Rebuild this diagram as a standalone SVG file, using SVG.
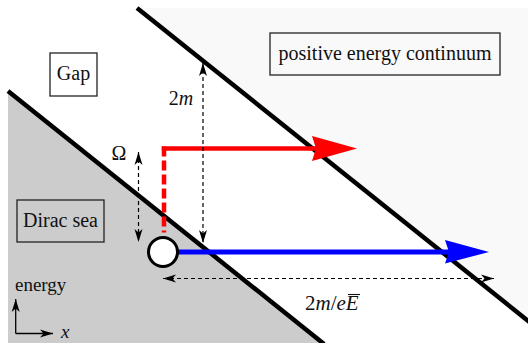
<svg xmlns="http://www.w3.org/2000/svg" width="528" height="343" viewBox="0 0 528 343" font-family="'Liberation Serif', 'DejaVu Serif', serif">
<style>
  text { font-family: "Liberation Serif", "DejaVu Serif", serif; fill: #111; }
  .lbl { font-size: 20px; }
  .box { fill: none; stroke: #222; stroke-width: 1.3; }
  .edge { stroke: #000; stroke-width: 4.5; fill: none; }
  .dim { stroke: #000; stroke-width: 1.2; stroke-dasharray: 4 3; fill: none; marker-start: url(#stealth); marker-end: url(#stealth); }
  .it { font-style: italic; }
</style>
<defs>
  <marker id="stealth" markerUnits="userSpaceOnUse" viewBox="-14 -5 15 10" refX="0" refY="0" markerWidth="15" markerHeight="10" orient="auto-start-reverse">
    <path d="M0,0 L-13,-4 L-9.5,0 L-13,4 Z" fill="#000"/>
  </marker>
</defs>

<g id="regions">
  <polygon points="137,8 528,8 528,321" fill="#f9f9f9"/>
  <polygon points="8,91 323,343 8,343" fill="#cccccc"/>
  <line class="edge" x1="137" y1="8" x2="530" y2="322.4"/>
  <line class="edge" x1="8" y1="91" x2="324" y2="344"/>
</g>

<g id="gap">
  <rect class="box" x="50" y="53" width="47" height="43" fill="#fff"/>
  <text class="lbl" x="73.5" y="80" text-anchor="middle">Gap</text>
</g>
<g id="continuum">
  <rect class="box" x="270" y="33" width="230" height="42"/>
  <text class="lbl" x="385" y="60" text-anchor="middle">positive energy continuum</text>
</g>
<g id="dirac-sea">
  <rect class="box" x="17" y="200" width="87" height="42"/>
  <text class="lbl" x="60.5" y="227" text-anchor="middle">Dirac sea</text>
</g>

<g id="connectors">
  <path d="M164,146.5 V232.5" stroke="#ff0000" stroke-width="4.5" stroke-dasharray="10 4" fill="none"/>
  <path d="M161.8,148.5 H316" stroke="#ff0000" stroke-width="4.5" fill="none"/>
  <polygon points="312,136 357,148.5 312,161 316,148.5" fill="#ff0000"/>
  <path d="M163,252 H449" stroke="#0000ff" stroke-width="5" fill="none"/>
  <polygon points="445,240 489,252 445,263.5 449,252" fill="#0000ff"/>
  <path class="dim" d="M138.5,152 V242"/>
  <path class="dim" d="M203,63 V243"/>
  <path class="dim" d="M163,278.5 H494"/>
  <path d="M15.7,333.5 V299" stroke="#000" stroke-width="1.3" fill="none" marker-end="url(#stealth)"/>
  <path d="M15.7,333.5 H53" stroke="#000" stroke-width="1.3" fill="none" marker-end="url(#stealth)"/>
</g>

<g id="hole">
  <circle cx="163" cy="252" r="14.5" fill="#fff" stroke="#000" stroke-width="3"/>
</g>

<g id="labels">
  <text class="lbl" x="181" y="105" text-anchor="middle">2<tspan class="it">m</tspan></text>
  <text class="lbl" x="119" y="160" text-anchor="middle">Ω</text>
  <text x="305" y="310" style="font-size:21px">2<tspan class="it">m</tspan>/<tspan class="it">e</tspan><tspan class="it">E</tspan></text>
  <line x1="348" y1="294.5" x2="360" y2="294.5" stroke="#111" stroke-width="1.1"/>
  <text x="15" y="291" style="font-size:19px">energy</text>
  <text x="61" y="338" class="it" style="font-size:19px">x</text>
</g>
</svg>
